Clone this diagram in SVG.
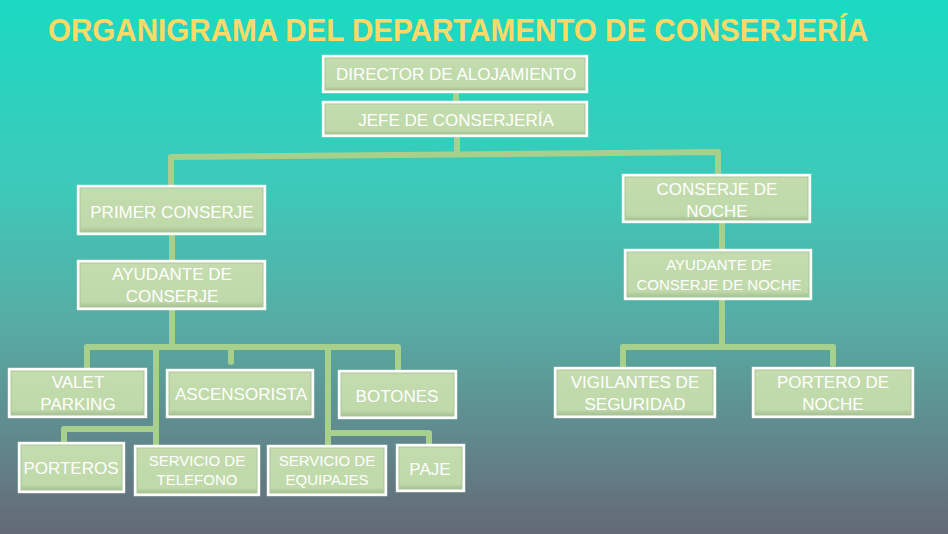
<svg xmlns="http://www.w3.org/2000/svg" width="948" height="534" viewBox="0 0 948 534">
<defs>
<linearGradient id="bg" x1="0" y1="0" x2="0" y2="1">
<stop offset="0" stop-color="#1bdac3"/>
<stop offset="0.35" stop-color="#3dc9b9"/>
<stop offset="0.6" stop-color="#56ada4"/>
<stop offset="0.8" stop-color="#608c8f"/>
<stop offset="1" stop-color="#646977"/>
</linearGradient>
<linearGradient id="fill" x1="0" y1="0" x2="0" y2="1">
<stop offset="0" stop-color="#c4dcae"/>
<stop offset="0.88" stop-color="#bfd9a9"/>
<stop offset="1" stop-color="#a7c093"/>
</linearGradient>
</defs>
<style>
.box{fill:#ffffff;stroke:#e8efe3;stroke-width:0.5}
.in{fill:url(#fill);stroke:#adc699;stroke-width:1}
.t{font-family:"Liberation Sans",Arial,sans-serif;fill:#ffffff;font-size:17px;text-anchor:middle}
.s{font-size:15px}
.c{fill:none;stroke:#a8d08d;stroke-width:6;stroke-linecap:round;stroke-linejoin:round}
</style>
<rect width="948" height="534" fill="url(#bg)"/>
<text x="458" y="41" font-family="Liberation Sans,Arial,sans-serif" font-weight="bold" font-size="32" fill="#ffd966" text-anchor="middle" textLength="820" lengthAdjust="spacingAndGlyphs">ORGANIGRAMA DEL DEPARTAMENTO DE CONSERJERÍA</text>

<g id="connectors">
<path class="c" d="M456 93V101"/>
<path class="c" d="M457 137V153"/>
<path class="c" d="M171 185V157L718 152V174"/>
<path class="c" d="M172 235V260"/>
<path class="c" d="M172 310V347"/>
<path class="c" d="M87 368V347H398V368"/>
<path class="c" d="M231 347V362"/>
<path class="c" d="M156 347V445"/>
<path class="c" d="M328 347V445"/>
<path class="c" d="M64 442V429H156"/>
<path class="c" d="M328 433H429V444"/>
<path class="c" d="M722 223V249"/>
<path class="c" d="M722 300V346"/>
<path class="c" d="M623 367V347H833V364"/>
</g>

<g id="director">
<rect class="box" x="322" y="55" width="266" height="38"/>
<rect class="in" x="325" y="58" width="260" height="32"/>
<text class="t" x="456" y="80">DIRECTOR DE ALOJAMIENTO</text>
</g>
<g id="jefe">
<rect class="box" x="322" y="101" width="266" height="36"/>
<rect class="in" x="325" y="104" width="260" height="30"/>
<text class="t" x="456" y="126">JEFE DE CONSERJERÍA</text>
</g>
<g id="primer">
<rect class="box" x="77" y="185" width="189" height="50"/>
<rect class="in" x="80" y="188" width="183" height="44"/>
<text class="t" x="172" y="218">PRIMER CONSERJE</text>
</g>
<g id="ayudante">
<rect class="box" x="77" y="260" width="189" height="50"/>
<rect class="in" x="80" y="263" width="183" height="44"/>
<text class="t" x="172" y="280">AYUDANTE DE</text>
<text class="t" x="172" y="302">CONSERJE</text>
</g>
<g id="conserje-noche">
<rect class="box" x="622" y="174" width="189" height="49"/>
<rect class="in" x="625" y="177" width="183" height="43"/>
<text class="t" x="717" y="195">CONSERJE DE</text>
<text class="t" x="717" y="217">NOCHE</text>
</g>
<g id="ayudante-noche">
<rect class="box" x="624" y="249" width="188" height="51"/>
<rect class="in" x="627" y="252" width="182" height="45"/>
<text class="t s" x="719" y="270">AYUDANTE DE</text>
<text class="t s" x="719" y="290">CONSERJE DE NOCHE</text>
</g>
<g id="valet">
<rect class="box" x="8" y="368" width="139" height="50"/>
<rect class="in" x="11" y="371" width="133" height="44"/>
<text class="t" x="78" y="388">VALET</text>
<text class="t" x="78" y="410">PARKING</text>
</g>
<g id="ascensorista">
<rect class="box" x="166" y="369" width="148" height="49"/>
<rect class="in" x="169" y="372" width="142" height="43"/>
<text class="t" x="241" y="400">ASCENSORISTA</text>
</g>
<g id="botones">
<rect class="box" x="338" y="370" width="119" height="49"/>
<rect class="in" x="341" y="373" width="113" height="43"/>
<text class="t" x="397" y="402">BOTONES</text>
</g>
<g id="porteros">
<rect class="box" x="18" y="442" width="107" height="51"/>
<rect class="in" x="21" y="445" width="101" height="45"/>
<text class="t" x="71" y="474">PORTEROS</text>
</g>
<g id="telefono">
<rect class="box" x="134" y="445" width="126" height="51"/>
<rect class="in" x="137" y="448" width="120" height="45"/>
<text class="t s" x="197" y="466">SERVICIO DE</text>
<text class="t s" x="197" y="485">TELEFONO</text>
</g>
<g id="equipajes">
<rect class="box" x="267" y="445" width="120" height="51"/>
<rect class="in" x="270" y="448" width="114" height="45"/>
<text class="t s" x="327" y="466">SERVICIO DE</text>
<text class="t s" x="327" y="485">EQUIPAJES</text>
</g>
<g id="paje">
<rect class="box" x="396" y="444" width="69" height="48"/>
<rect class="in" x="399" y="447" width="63" height="42"/>
<text class="t" x="430" y="475">PAJE</text>
</g>
<g id="vigilantes">
<rect class="box" x="554" y="367" width="162" height="51"/>
<rect class="in" x="557" y="370" width="156" height="45"/>
<text class="t" x="635" y="388">VIGILANTES DE</text>
<text class="t" x="635" y="410">SEGURIDAD</text>
</g>
<g id="portero-noche">
<rect class="box" x="752" y="367" width="162" height="51"/>
<rect class="in" x="755" y="370" width="156" height="45"/>
<text class="t" x="833" y="388">PORTERO DE</text>
<text class="t" x="833" y="410">NOCHE</text>
</g>
</svg>
